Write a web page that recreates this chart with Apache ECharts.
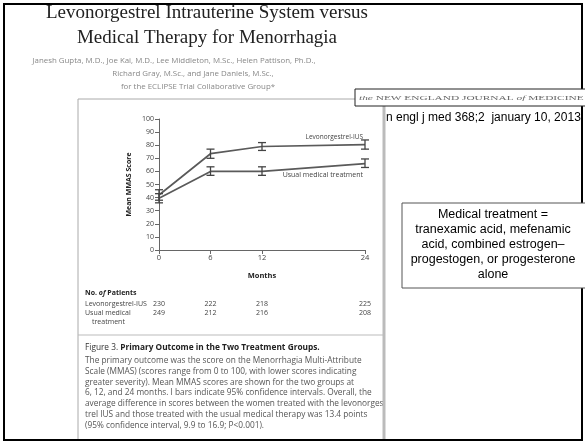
<!DOCTYPE html>
<html><head><meta charset="utf-8">
<script src="https://cdn.jsdelivr.net/npm/echarts@6/dist/echarts.min.js"></script>
<style>html,body{margin:0;padding:0;background:#fff}#c{width:585px;height:445px}</style>
</head><body><div id="c"></div>
<script>
var months = [0, 6, 12, 24];
var monthTicks = [0, 6, 12, 24];
var yTicks = [0, 10, 20, 30, 40, 50, 60, 70, 80, 90, 100];
var lngMean = [42, 73.5, 79, 80.5];
var lngLow = [38, 70, 76, 77];
var lngHigh = [46, 77, 82, 84];
var usualMean = [39.5, 60, 60, 66];
var usualLow = [36, 57, 57, 63];
var usualHigh = [43, 63.5, 63.5, 69.5];
var lngN = ['230', '222', '218', '225'];
var usualN = ['249', '212', '216', '208'];
var seriesNames = ['Levonorgestrel-IUS', 'Usual medical treatment'];

var chart = echarts.init(document.getElementById('c'), null, {renderer: 'canvas'});
var sans = '"Open Sans", sans-serif';
var serif = '"Liberation Serif", "DejaVu Serif", serif';
var arial = '"Liberation Sans", Arial, sans-serif';

function pairs(xs, ys) { return xs.map(function (x, i) { return [x, ys[i]]; }); }
function ebData(xs, lo, hi) { return xs.map(function (x, i) { return [x, lo[i], hi[i]]; }); }
function ebRender(params, api) {
  var x = api.value(0);
  var p1 = api.coord([x, api.value(1)]);
  var p2 = api.coord([x, api.value(2)]);
  var w = 4;
  var st = {stroke: '#444', lineWidth: 1.3};
  return {type: 'group', children: [
    {type: 'line', shape: {x1: p1[0], y1: p1[1], x2: p2[0], y2: p2[1]}, style: st},
    {type: 'line', shape: {x1: p1[0] - w, y1: p1[1], x2: p1[0] + w, y2: p1[1]}, style: st},
    {type: 'line', shape: {x1: p2[0] - w, y1: p2[1], x2: p2[0] + w, y2: p2[1]}, style: st}
  ]};
}

var captionLines = [
  'The primary outcome was the score on the Menorrhagia Multi-Attribute',
  'Scale (MMAS) (scores range from 0 to 100, with lower scores indicating',
  'greater severity). Mean MMAS scores are shown for the two groups at',
  '6, 12, and 24 months. I bars indicate 95% confidence intervals. Overall, the',
  'average difference in scores between the women treated with the levonorges-',
  'trel IUS and those treated with the usual medical therapy was 13.4 points',
  '(95% confidence interval, 9.9 to 16.9; P<0.001).'
];

var graphics = [
  {type: 'rect', shape: {x: 4, y: 4, width: 578, height: 436}, style: {fill: 'none', stroke: '#000', lineWidth: 2}, z: 10},
  {type: 'text', x: 207, y: 13, style: {text: 'Levonorgestrel Intrauterine System versus', font: '19px ' + serif, fill: '#222', textAlign: 'center', textVerticalAlign: 'middle'}},
  {type: 'text', x: 207, y: 38, style: {text: 'Medical Therapy for Menorrhagia', font: '19px ' + serif, fill: '#222', textAlign: 'center', textVerticalAlign: 'middle'}},
  {type: 'text', x: 174, y: 61, style: {text: 'Janesh Gupta, M.D., Joe Kai, M.D., Lee Middleton, M.Sc., Helen Pattison, Ph.D.,', font: '7.9px ' + sans, fill: '#888', textAlign: 'center', textVerticalAlign: 'middle'}},
  {type: 'text', x: 193, y: 74, style: {text: 'Richard Gray, M.Sc., and Jane Daniels, M.Sc.,', font: '7.9px ' + sans, fill: '#888', textAlign: 'center', textVerticalAlign: 'middle'}},
  {type: 'text', x: 198, y: 87, style: {text: 'for the ECLIPSE Trial Collaborative Group*', font: '7.9px ' + sans, fill: '#888', textAlign: 'center', textVerticalAlign: 'middle'}},
  // caption mask to the right of the panel
  {type: 'rect', shape: {x: 385, y: 336, width: 16, height: 103}, style: {fill: '#fff'}, z: 8},
  // panel borders
  {type: 'line', shape: {x1: 78, y1: 99, x2: 355, y2: 99}, style: {stroke: '#aaa', lineWidth: 1}},
  {type: 'line', shape: {x1: 78, y1: 99, x2: 78, y2: 440}, style: {stroke: '#aaa', lineWidth: 1}},
  {type: 'line', shape: {x1: 384, y1: 106, x2: 384, y2: 440}, style: {stroke: '#bbb', lineWidth: 3}, z: 9},
  {type: 'line', shape: {x1: 78, y1: 335, x2: 384, y2: 335}, style: {stroke: '#bbb', lineWidth: 1}},
  // NEJM box
  {type: 'rect', shape: {x: 355, y: 89, width: 240, height: 17}, style: {fill: '#fff', stroke: '#222', lineWidth: 1}, z: 11},
  {type: 'text', x: 359, y: 98, scaleX: 1.62, z: 12, style: {text: '{i|the} NEW ENGLAND JOURNAL {i|of} MEDICINE', font: '7px ' + serif, fill: '#666', textVerticalAlign: 'middle', rich: {i: {fontStyle: 'italic', fontFamily: serif, fontSize: 7}}}},
  {type: 'text', x: 386, y: 118, style: {text: 'n engl j med 368;2  january 10, 2013', font: '12px ' + arial, fill: '#000', textVerticalAlign: 'middle'}},
  // text box
  {type: 'rect', shape: {x: 402, y: 203, width: 190, height: 85}, style: {fill: '#fff', stroke: '#555', lineWidth: 1}, z: 11},
  {type: 'text', x: 493, y: 245, z: 12, style: {text: 'Medical treatment =\ntranexamic acid, mefenamic\nacid, combined estrogen\u2013\nprogestogen, or progesterone\nalone', font: '12.5px ' + arial, fill: '#000', textAlign: 'center', textVerticalAlign: 'middle', lineHeight: 15}},
  // patients table headers
  {type: 'text', x: 85, y: 293, style: {text: '{b|No.} {bi|of} {b|Patients}', font: '7px ' + sans, fill: '#222', textVerticalAlign: 'middle', rich: {b: {fontWeight: 'bold', fontFamily: sans, fontSize: 7}, bi: {fontWeight: 'bold', fontStyle: 'italic', fontFamily: sans, fontSize: 7}}}},
  {type: 'text', x: 85, y: 304, style: {text: 'Levonorgestrel-IUS', font: '7px ' + sans, fill: '#444', textVerticalAlign: 'middle'}},
  {type: 'text', x: 85, y: 313, style: {text: 'Usual medical', font: '7px ' + sans, fill: '#444', textVerticalAlign: 'middle'}},
  {type: 'text', x: 92, y: 322, style: {text: 'treatment', font: '7px ' + sans, fill: '#444', textVerticalAlign: 'middle'}},
  // caption
  {type: 'text', x: 85, y: 348, style: {text: 'Figure 3. {b|Primary Outcome in the Two Treatment Groups.}', font: '8.3px ' + sans, fill: '#333', textVerticalAlign: 'middle', rich: {b: {fontWeight: 'bold', fontFamily: sans, fontSize: 8.3, fill: '#222'}}}}
];
captionLines.forEach(function (t, i) {
  graphics.push({type: 'text', x: 85, y: 361 + i * 10.7, style: {text: t, font: '8.3px ' + sans, fill: '#555', textVerticalAlign: 'middle'}});
});

var option = {
  animation: false,
  backgroundColor: '#fff',
  grid: {left: 159, right: 220, top: 119, bottom: 195, containLabel: false},
  xAxis: {
    type: 'value', min: 0, max: 24,
    name: 'Months', nameLocation: 'middle', nameGap: 22,
    nameTextStyle: {fontFamily: sans, fontSize: 7.5, fontWeight: 'bold', color: '#222'},
    axisLine: {lineStyle: {color: '#666', width: 1}},
    axisTick: {show: true, length: 4, lineStyle: {color: '#666'}, customValues: monthTicks},
    axisLabel: {customValues: monthTicks, fontFamily: sans, fontSize: 7.5, color: '#444', margin: 4},
    splitLine: {show: false}
  },
  yAxis: {
    type: 'value', min: 0, max: 100, interval: 10,
    name: 'Mean MMAS Score', nameLocation: 'middle', nameGap: 27, nameRotate: 90,
    nameTextStyle: {fontFamily: sans, fontSize: 7, fontWeight: 'bold', color: '#222'},
    axisLine: {show: true, lineStyle: {color: '#666', width: 1}},
    axisTick: {show: true, length: 4, lineStyle: {color: '#666'}},
    axisLabel: {fontFamily: sans, fontSize: 7, color: '#444', margin: 5},
    splitLine: {show: false}
  },
  series: [
    {name: seriesNames[0], type: 'line', data: pairs(months, lngMean), symbol: 'none', lineStyle: {color: '#5a5a5a', width: 1.7}, z: 3},
    {name: seriesNames[1], type: 'line', data: pairs(months, usualMean), symbol: 'none', lineStyle: {color: '#5a5a5a', width: 1.7}, z: 3},
    {type: 'custom', data: ebData(months, lngLow, lngHigh), renderItem: ebRender, z: 4},
    {type: 'custom', data: ebData(months, usualLow, usualHigh), renderItem: ebRender, z: 4}
  ],
  graphic: graphics
};
chart.setOption(option);

// Labels anchored on the chart scale
var extra = [];
var lastX = months[months.length - 1];
var pL = chart.convertToPixel({gridIndex: 0}, [lastX, lngMean[lngMean.length - 1]]);
var pU = chart.convertToPixel({gridIndex: 0}, [lastX, usualMean[usualMean.length - 1]]);
extra.push({type: 'text', x: pL[0] - 2, y: pL[1] - 7, style: {text: seriesNames[0], font: '6.5px ' + sans, fill: '#444', textAlign: 'right', textVerticalAlign: 'middle'}});
extra.push({type: 'text', x: pU[0] - 2, y: pU[1] + 11, style: {text: seriesNames[1], font: '7px ' + sans, fill: '#444', textAlign: 'right', textVerticalAlign: 'middle'}});
months.forEach(function (m, i) {
  var px = chart.convertToPixel({xAxisIndex: 0}, m);
  extra.push({type: 'text', x: px, y: 304, style: {text: lngN[i], font: '7px ' + sans, fill: '#444', textAlign: 'center', textVerticalAlign: 'middle'}});
  extra.push({type: 'text', x: px, y: 313, style: {text: usualN[i], font: '7px ' + sans, fill: '#444', textAlign: 'center', textVerticalAlign: 'middle'}});
});
chart.setOption({graphic: graphics.concat(extra)});
</script>
</body></html>
